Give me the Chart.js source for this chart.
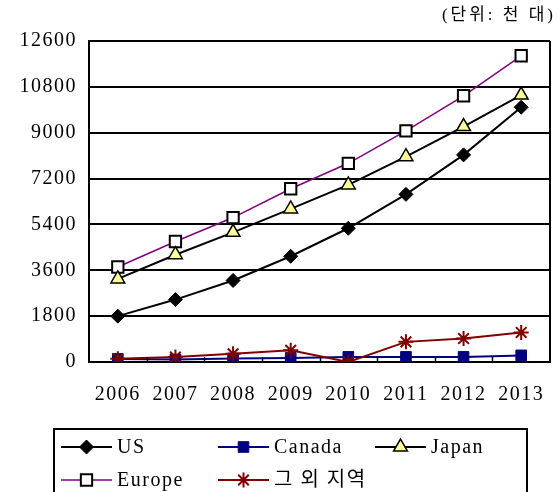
<!DOCTYPE html>
<html>
<head>
<meta charset="utf-8">
<script src="https://cdn.jsdelivr.net/npm/chart.js@4.4.0/dist/chart.umd.min.js"></script>
<style>
  html, body { margin: 0; padding: 0; background: #fff; }
</style>
</head>
<body>
<canvas id="chart" width="560" height="492"></canvas>
<script>
// values (thousand units)
const years = ['2006', '2007', '2008', '2009', '2010', '2011', '2012', '2013'];
const usValues = [1800, 2450, 3200, 4150, 5250, 6580, 8130, 10000];
const canadaValues = [120, 100, 140, 160, 200, 200, 200, 260];
const japanValues = [3260, 4210, 5090, 6010, 6950, 8060, 9240, 10480];
const europeValues = [3730, 4730, 5670, 6800, 7800, 9070, 10450, 12020];
const otherValues = [130, 195, 320, 460, 0, 790, 920, 1160];
const yTicks = [0, 1800, 3600, 5400, 7200, 9000, 10800, 12600];
const seriesNames = ['US', 'Canada', 'Japan', 'Europe', '그 외 지역'];
const unitLabel = '(단위: 천 대)';

const FONT = "'Liberation Serif', 'Noto Sans CJK KR', serif";
Chart.defaults.font.family = FONT;
Chart.defaults.color = '#000';

// legend slots: [x of line start, y center]
const legendSlots = [[61, 447], [218, 447], [375, 447], [61, 480], [218, 480]];

const extras = {
    id: 'extras',
    beforeDraw(chart) {
        chart.ctx.letterSpacing = '1.5px';
    },
    afterDraw(chart) {
        const ctx = chart.ctx;
        const area = chart.chartArea;
        const x = chart.scales.x;
        ctx.save();
        ctx.strokeStyle = '#000';
        ctx.lineWidth = 2;
        // right border of the plot
        ctx.beginPath();
        ctx.moveTo(area.right, area.top);
        ctx.lineTo(area.right, area.bottom);
        ctx.stroke();
        // small inside tick marks between categories
        ctx.lineWidth = 1.5;
        for (let i = 1; i < years.length; i++) {
            const xb = Math.round((x.getPixelForValue(i - 1) + x.getPixelForValue(i)) / 2) + 0.5;
            ctx.beginPath();
            ctx.moveTo(xb, area.bottom);
            ctx.lineTo(xb, area.bottom - 5);
            ctx.stroke();
        }
        // unit label
        ctx.fillStyle = '#000';
        ctx.letterSpacing = '3px';
        ctx.font = "17px " + FONT;
        ctx.textAlign = 'right';
        ctx.textBaseline = 'middle';
        ctx.fillText(unitLabel, 556, 16);
        ctx.letterSpacing = '1.5px';
        // legend box (bottom edge falls outside the picture)
        ctx.lineWidth = 2;
        ctx.strokeStyle = '#000';
        ctx.beginPath();
        ctx.moveTo(54, 500);
        ctx.lineTo(54, 429);
        ctx.lineTo(527, 429);
        ctx.lineTo(527, 500);
        ctx.stroke();
        // legend items
        chart.data.datasets.forEach((ds, i) => {
            const [lx, ly] = legendSlots[i];
            ctx.strokeStyle = ds.borderColor;
            ctx.lineWidth = ds.borderWidth;
            ctx.beginPath();
            ctx.moveTo(lx, ly);
            ctx.lineTo(lx + 51, ly);
            ctx.stroke();
            ctx.fillStyle = ds.pointBackgroundColor;
            ctx.strokeStyle = ds.pointBorderColor;
            ctx.lineWidth = ds.pointBorderWidth;
            Chart.helpers.drawPoint(ctx, {
                pointStyle: ds.pointStyle,
                radius: ds.pointRadius,
                borderWidth: ds.pointBorderWidth,
                rotation: 0
            }, lx + 25.5, ly);
            ctx.fillStyle = '#000';
            ctx.font = "20px " + FONT;
            ctx.textAlign = 'left';
            ctx.fillText(ds.label, lx + 56, ly + 1);
        });
        ctx.restore();
    }
};

new Chart(document.getElementById('chart'), {
    type: 'line',
    data: {
        labels: years,
        datasets: [
            {
                label: seriesNames[0], data: usValues, order: 1,
                borderColor: '#000', borderWidth: 2,
                pointStyle: 'rectRot', pointRadius: 7, pointBorderWidth: 1,
                pointBackgroundColor: '#000', pointBorderColor: '#000'
            },
            {
                label: seriesNames[1], data: canadaValues, order: 4,
                borderColor: '#000080', borderWidth: 2,
                pointStyle: 'rect', pointRadius: 7.5, pointBorderWidth: 1,
                pointBackgroundColor: '#000080', pointBorderColor: '#000080'
            },
            {
                label: seriesNames[2], data: japanValues, order: 2,
                borderColor: '#000', borderWidth: 2,
                pointStyle: 'triangle', pointRadius: 8, pointBorderWidth: 1.5,
                pointBackgroundColor: '#ffff99', pointBorderColor: '#000'
            },
            {
                label: seriesNames[3], data: europeValues, order: 3,
                borderColor: '#800080', borderWidth: 1.5,
                pointStyle: 'rect', pointRadius: 8, pointBorderWidth: 2,
                pointBackgroundColor: '#fff', pointBorderColor: '#000'
            },
            {
                label: seriesNames[4], data: otherValues, order: 0,
                borderColor: '#800000', borderWidth: 2,
                pointStyle: 'star', pointRadius: 7.5, pointBorderWidth: 2,
                pointBackgroundColor: '#800000', pointBorderColor: '#800000'
            }
        ]
    },
    options: {
        responsive: false,
        animation: false,
        layout: { padding: { top: 41, right: 6, left: 0, bottom: 0 } },
        plugins: {
            legend: { display: false },
            tooltip: { enabled: false }
        },
        scales: {
            x: {
                offset: true,
                grid: { display: false },
                border: { display: true, color: '#000', width: 2 },
                ticks: { padding: 13, font: { size: 20 }, color: '#000', maxRotation: 0 },
                afterFit: s => { s.height = 130; }
            },
            y: {
                min: yTicks[0],
                max: yTicks[yTicks.length - 1],
                grid: { color: '#000', lineWidth: 2, drawTicks: false },
                border: { color: '#000', width: 2 },
                ticks: {
                    stepSize: yTicks[1] - yTicks[0],
                    padding: 12,
                    font: { size: 20 },
                    color: '#000',
                    callback: v => String(v)
                },
                afterFit: s => { s.width = 89; }
            }
        }
    },
    plugins: [extras]
});
</script>
</body>
</html>
